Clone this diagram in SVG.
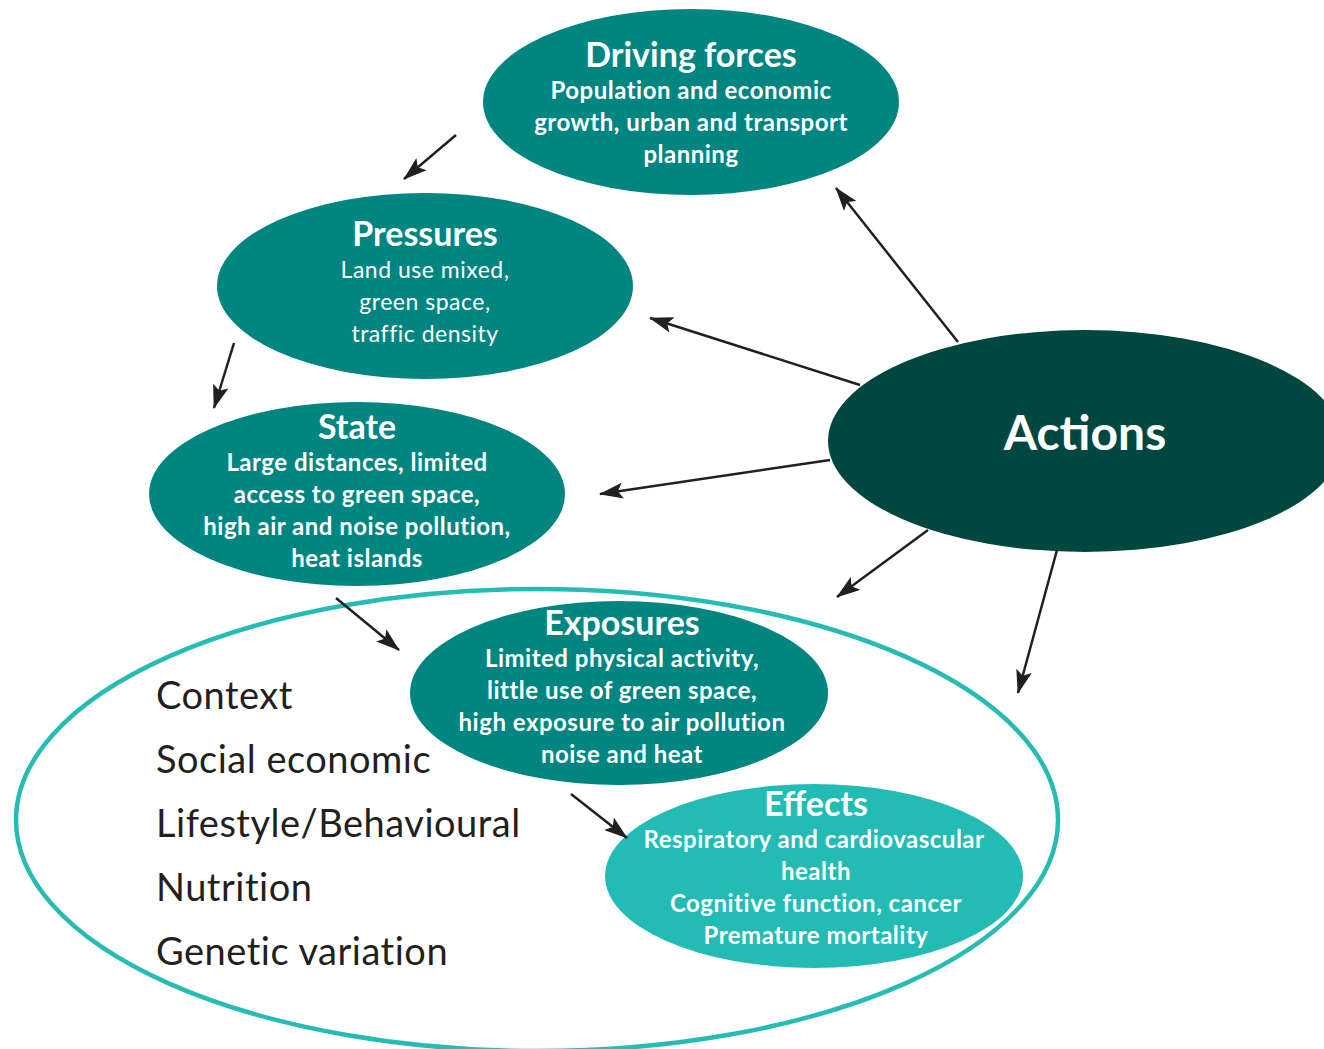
<svg xmlns="http://www.w3.org/2000/svg" width="1324" height="1049" viewBox="0 0 1324 1049">
<defs>
<marker id="ah" viewBox="0 0 24 16" refX="23" refY="8" markerWidth="24" markerHeight="16" markerUnits="userSpaceOnUse" orient="auto">
<path d="M0,0 L24,8 L0,16 L5,8 z" fill="#231f20"/>
</marker>
<style>
.t{font-family:Lato,"Open Sans","Liberation Sans",sans-serif;fill:#fff;text-anchor:middle}
.h{font-size:34px;font-weight:bold}
.s{font-size:24px;font-weight:bold;letter-spacing:0.5px}
.r{font-size:23px;font-weight:normal;letter-spacing:0.5px}
.c{font-family:Lato,"Open Sans","Liberation Sans",sans-serif;fill:#231f20;font-size:38px;letter-spacing:0.5px}
.teal{fill:#008580}
.conn line{stroke:#231f20;stroke-width:2.5;marker-end:url(#ah)}
</style>
</defs>
<rect width="1324" height="1049" fill="#fff"/>
<g id="context">
<ellipse cx="537" cy="820" rx="521" ry="231" fill="none" stroke="#27bcb3" stroke-width="4.5"/>
<text class="c" x="156" y="709">Context</text>
<text class="c" x="156" y="773">Social economic</text>
<text class="c" x="156" y="837">Lifestyle/Behavioural</text>
<text class="c" x="156" y="901">Nutrition</text>
<text class="c" x="156" y="965">Genetic variation</text>
</g>
<g id="driving">
<ellipse class="teal" cx="691" cy="102" rx="208" ry="93"/>
<text class="t h" x="691" y="67">Driving forces</text>
<text class="t s" x="691" y="99">Population and economic</text>
<text class="t s" x="691" y="131">growth, urban and transport</text>
<text class="t s" x="691" y="163">planning</text>
</g>
<g id="pressures">
<ellipse class="teal" cx="425" cy="286" rx="208" ry="93"/>
<text class="t h" x="425" y="246">Pressures</text>
<text class="t r" x="425" y="278">Land use mixed,</text>
<text class="t r" x="425" y="310">green space,</text>
<text class="t r" x="425" y="342">traffic density</text>
</g>
<g id="state">
<ellipse class="teal" cx="357" cy="494" rx="208" ry="92"/>
<text class="t h" x="357" y="439">State</text>
<text class="t s" x="357" y="471">Large distances, limited</text>
<text class="t s" x="357" y="503">access to green space,</text>
<text class="t s" x="357" y="535">high air and noise pollution,</text>
<text class="t s" x="357" y="567">heat islands</text>
</g>
<g id="exposures">
<ellipse class="teal" cx="619" cy="693" rx="209" ry="92"/>
<text class="t h" x="622" y="635">Exposures</text>
<text class="t s" x="622" y="667">Limited physical activity,</text>
<text class="t s" x="622" y="699">little use of green space,</text>
<text class="t s" x="622" y="731">high exposure to air pollution</text>
<text class="t s" x="622" y="763">noise and heat</text>
</g>
<g id="effects">
<ellipse cx="814" cy="876" rx="209" ry="92" fill="#22bcb5"/>
<text class="t h" x="816" y="816">Effects</text>
<text class="t s" x="814" y="848">Respiratory and cardiovascular</text>
<text class="t s" x="816" y="880">health</text>
<text class="t s" x="816" y="912">Cognitive function, cancer</text>
<text class="t s" x="816" y="944">Premature mortality</text>
</g>
<g id="actions">
<ellipse cx="1085" cy="441" rx="257" ry="111" fill="#00483f"/>
<text class="t" x="1085" y="450" style="font-size:48px;font-weight:bold">Actions</text>
</g>
<g class="conn" id="connectors">
<line x1="456" y1="135" x2="404" y2="179"/>
<line x1="234" y1="343" x2="214" y2="408"/>
<line x1="336" y1="598" x2="399" y2="650"/>
<line x1="571" y1="794" x2="627" y2="838"/>
<line x1="958" y1="342" x2="836" y2="188"/>
<line x1="860" y1="385" x2="650" y2="318"/>
<line x1="830" y1="460" x2="600" y2="494"/>
<line x1="928" y1="530" x2="837" y2="597"/>
<line x1="1057" y1="550" x2="1018" y2="693"/>
</g>
</svg>
